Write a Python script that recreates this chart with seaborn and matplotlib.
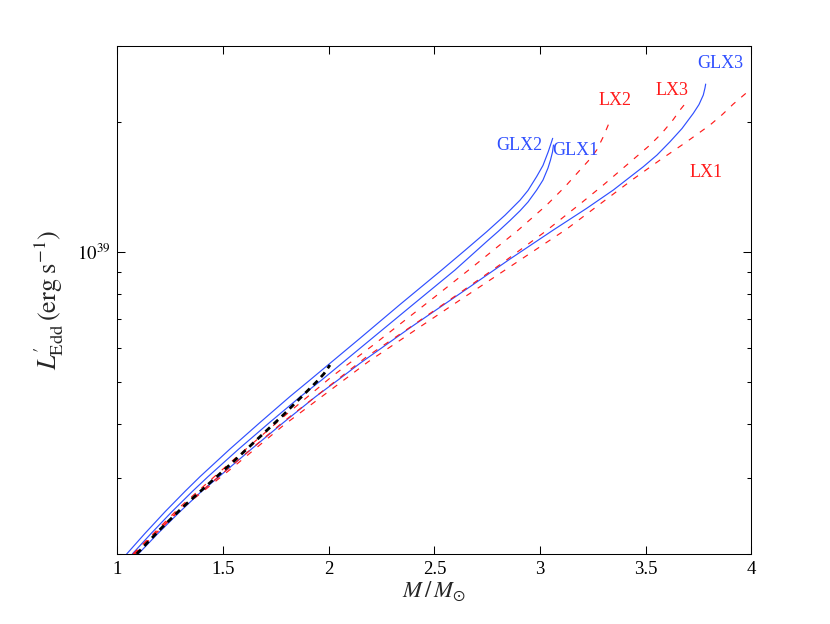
import numpy as np
import pandas as pd
import matplotlib
matplotlib.use("Agg")
import matplotlib.pyplot as plt
import matplotlib.ticker as mticker
import seaborn as sns

# ---------------- data (M in solar masses, L'_Edd in units of 1e39 erg/s) -------------
SCALE = 1e39

glx2_m = [1.0445, 1.1310, 1.2256, 1.3202, 1.3912, 1.5331, 1.6750, 1.8169, 1.9115, 2.1481,
          2.3373, 2.5345, 2.6448, 2.7474, 2.8340, 2.9049, 2.9428, 2.9839, 3.0137, 3.0388,
          3.0516, 3.0596]
glx2_l = [0.2000, 0.2232, 0.2504, 0.2792, 0.3020, 0.3500, 0.4031, 0.4630, 0.5056, 0.6315,
          0.7561, 0.9087, 1.0093, 1.1145, 1.2170, 1.3183, 1.3890, 1.4958, 1.5870, 1.7081,
          1.7835, 1.8336]

glx1_m = [1.0710, 1.1604, 1.2578, 1.3553, 1.4290, 1.5747, 1.7204, 1.8671, 1.9669, 2.1481,
          2.3846, 2.5974, 2.7474, 2.8023, 2.8576, 2.9049, 2.9428, 2.9839, 3.0137, 3.0374,
          3.0492, 3.0587, 3.0634]
glx1_l = [0.2000, 0.2232, 0.2504, 0.2792, 0.3020, 0.3500, 0.4031, 0.4630, 0.5056, 0.5987,
          0.7461, 0.9087, 1.0578, 1.1169, 1.1831, 1.2459, 1.3057, 1.3919, 1.4681, 1.5651,
          1.6333, 1.7045, 1.7693]

glx3_m = [1.0993, 1.1925, 1.2956, 1.3983, 1.4811, 1.6348, 1.7862, 1.9390, 2.0440, 2.1481,
          2.3846, 2.6684, 2.8576, 3.0625, 3.2204, 3.3463, 3.4253, 3.4882, 3.5530, 3.6145,
          3.6712, 3.7247, 3.7517, 3.7720, 3.7800, 3.7833]
glx3_l = [0.2000, 0.2232, 0.2504, 0.2792, 0.3020, 0.3500, 0.4031, 0.4630, 0.5056, 0.5527,
          0.6678, 0.8313, 0.9636, 1.1247, 1.2626, 1.3919, 1.4918, 1.5760, 1.6774, 1.8006,
          1.9318, 2.0949, 2.1956, 2.3096, 2.3975, 2.4486]

lx1_m = [1.0837, 1.2966, 1.5487, 1.7852, 2.1873, 2.3846, 2.6211, 2.8813, 3.1258, 3.3150,
         3.4409, 3.5672, 3.6935, 3.8037, 3.8605, 3.9139, 4.0009]
lx1_l = [0.2000, 0.2529, 0.3180, 0.3967, 0.5574, 0.6475, 0.7744, 0.9413, 1.1307, 1.3267,
         1.4760, 1.6333, 1.8006, 1.9683, 2.0783, 2.2014, 2.3936]

lx2_m = [1.0743, 1.2966, 1.5487, 1.7852, 2.0142, 2.2110, 2.5029, 2.6920, 2.8969, 3.0312,
         3.1178, 3.1888, 3.2267, 3.2678, 3.2990, 3.3307]
lx2_l = [0.2000, 0.2569, 0.3301, 0.4151, 0.5146, 0.6093, 0.7882, 0.9333, 1.1247, 1.2850,
         1.4166, 1.5485, 1.6229, 1.7227, 1.8493, 2.0139]

lx3_m = [1.0790, 1.2966, 1.5487, 1.7852, 2.1798, 2.3846, 2.6055, 2.8103, 3.0232, 3.1888,
         3.2990, 3.4096, 3.5199, 3.5767, 3.6301, 3.6618, 3.6935]
lx3_l = [0.2000, 0.2542, 0.3226, 0.4046, 0.5724, 0.6696, 0.7954, 0.9348, 1.1145, 1.2920,
         1.4296, 1.5903, 1.7693, 1.8861, 2.0269, 2.1322, 2.2286]

obs_m = [1.0918, 1.2020, 1.3122, 1.5487, 1.7852, 1.9432, 1.9778, 2.0061]
obs_l = [0.2000, 0.2279, 0.2573, 0.3271, 0.4196, 0.5010, 0.5229, 0.5477]

label_names = ["GLX3", "LX3", "LX2", "GLX2", "GLX1", "LX1"]
label_m = [3.851, 3.624, 3.353, 2.902, 3.169, 3.787]
label_l = [2.6634, 2.3096, 2.1898, 1.7227, 1.6774, 1.4942]
label_col = ["blue", "red", "red", "blue", "blue", "red"]

x_ticks = [1, 1.5, 2, 2.5, 3, 3.5, 4]

# ---------------- style ----------------
sns.set_style("ticks")
plt.rcParams["font.family"] = ["Liberation Serif", "DejaVu Serif"]
plt.rcParams["mathtext.fontset"] = "stix"
plt.rcParams["axes.linewidth"] = 0.75

BLUE = "#2f4fff"
RED = "#ff1a1a"
colmap = {"blue": BLUE, "red": RED}

fig = plt.figure(figsize=(8.30, 6.24), dpi=100)
ax = fig.add_axes([0.1413, 0.1122, 0.7641, 0.8141])

def frame(m, l):
    return pd.DataFrame({"M": m, "L": np.asarray(l) * SCALE})

for m, l in [(glx2_m, glx2_l), (glx1_m, glx1_l), (glx3_m, glx3_l)]:
    sns.lineplot(data=frame(m, l), x="M", y="L", ax=ax, color=BLUE, lw=0.85,
                 sort=False, estimator=None, errorbar=None)

for m, l in [(lx1_m, lx1_l), (lx2_m, lx2_l), (lx3_m, lx3_l)]:
    sns.lineplot(data=frame(m, l), x="M", y="L", ax=ax, color=RED, lw=0.85,
                 linestyle=(0, (5.0, 6.5)), sort=False, estimator=None, errorbar=None)

sns.lineplot(data=frame(obs_m, obs_l), x="M", y="L", ax=ax, color="black", lw=2.0,
             linestyle=(0, (2.2, 1.8)), sort=False, estimator=None, errorbar=None)

for name, m, l, c in zip(label_names, label_m, label_l, label_col):
    ax.text(m, l * SCALE, name, color=colmap[c], fontsize=13, ha="center", va="baseline")

ax.set_yscale("log")
ax.set_xlim(1, 4)
ax.set_ylim(2e38, 3e39)
ax.set_xticks(x_ticks)
ax.xaxis.set_major_formatter(mticker.FuncFormatter(lambda v, p: f"{v:g}"))
ax.xaxis.set_minor_locator(mticker.NullLocator())
ax.yaxis.set_major_locator(mticker.LogLocator(base=10))
ax.yaxis.set_major_formatter(mticker.FuncFormatter(
    lambda v, p: r"$10^{%d}$" % int(round(np.log10(v)))))
ax.yaxis.set_minor_locator(mticker.LogLocator(base=10, subs=np.arange(2, 10)))
ax.yaxis.set_minor_formatter(mticker.NullFormatter())

ax.tick_params(which="both", direction="in", top=True, right=True, width=0.75,
               labelsize=13.5, colors="black")
ax.tick_params(which="major", length=6, pad=5)
ax.tick_params(which="minor", length=3)

for s in ax.spines.values():
    s.set_visible(True)
    s.set_color("black")

ax.set_xlabel(r"$M\,/\,M_{\odot}$", fontsize=16.5, labelpad=1)
ax.set_ylabel(r"$L^{\prime}_{\rm Edd}\,({\rm erg\;s^{-1}})$", fontsize=19, labelpad=8)

fig.savefig("out.png", dpi=100)
